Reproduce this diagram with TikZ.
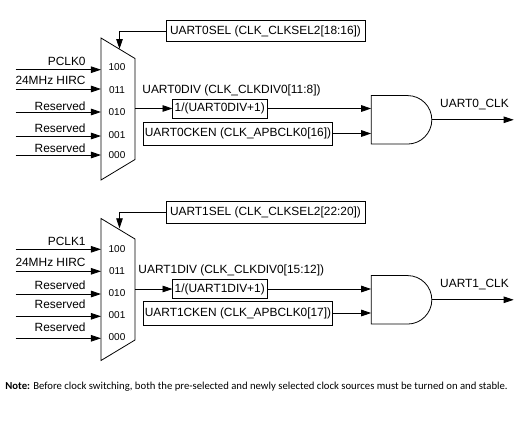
\documentclass[tikz,border=0pt]{standalone}
\usepackage{fontspec}
\setmainfont{Liberation Sans}
\newfontfamily\notefont{Carlito}
\usetikzlibrary{arrows.meta,positioning,shapes.geometric,shapes.gates.logic.US}
\tikzset{
  block/.style={rectangle, draw, inner sep=0pt, outer sep=0pt, align=center, minimum height=21.5pt},
  muxblock/.style={trapezium, draw, rotate=270, trapezium angle=58.9, inner xsep=50.5pt, inner ysep=17pt, outer sep=0pt},
  gateblock/.style={and gate US, draw, logic gate inputs=nn, inner sep=0pt, outer sep=0pt, minimum width=60.6pt, minimum height=45pt},
  txt/.style={inner sep=0pt, font=\fontsize{11.9pt}{13pt}\selectfont},
  code/.style={inner sep=0pt, font=\fontsize{10pt}{12pt}\selectfont},
  line/.style={-{Triangle[length=10pt,width=6.5pt]}, line width=0.8pt}
}

\begin{document}
\begin{tikzpicture}[x=1pt,y=-1pt,every path/.append style={line width=0.8pt}]
  \useasboundingbox (0,0) rectangle (524,429);
  \node[muxblock] (mux0) at (118,109) {};
  \node[code] (n0a) at (117,67) {100};
  \node[code] (n0b) at (117,90) {011};
  \node[code] (n0c) at (117,112) {010};
  \node[code] (n0d) at (117,135) {001};
  \node[code] (n0e) at (117,155) {000};
  \coordinate (in0a) at (15.5,69.7);
  \coordinate (in0b) at (15.5,89);
  \coordinate (in0c) at (15.5,112);
  \coordinate (in0d) at (15.5,136);
  \coordinate (in0e) at (15.5,155);
  \draw[line] (in0a) -- (in0a -| mux0.south);
  \draw[line] (in0b) -- (in0b -| mux0.south);
  \draw[line] (in0c) -- (in0c -| mux0.south);
  \draw[line] (in0d) -- (in0d -| mux0.south);
  \draw[line] (in0e) -- (in0e -| mux0.south);
  \node[txt, anchor=east] (pclk0) at (86,61) {PCLK0};
  \node[txt, anchor=east] (hirc0) at (86,80) {24MHz HIRC};
  \node[txt, anchor=east] (res0a) at (86,106) {Reserved};
  \node[txt, anchor=east] (res0b) at (86,128) {Reserved};
  \node[txt, anchor=east] (res0c) at (86,148) {Reserved};
  \node[block, minimum width=199pt, txt] (sel0) at (265.5,31) {UART0SEL (CLK\_CLKSEL2[18:16])};
  \coordinate (sel0in) at (119.5,49);
  \draw[line] (sel0.west) -| (sel0in);
  \node[txt] (divlbl0) at (231.5,90) {UART0DIV (CLK\_CLKDIV0[11:8])};
  \node[block, minimum width=94.5pt, minimum height=19pt, txt] (div0) at (219.75,108.5) {1/(UART0DIV+1)};
  \node[block, minimum width=189pt, minimum height=23pt, txt] (cken0) at (238,133.5) {UART0CKEN (CLK\_APBCLK0[16])};
  \node[gateblock] (and0) at (399.5,119.8) {};
  \draw[line] (mux0.north |- div0.west) -- (div0.west);
  \draw[line] (div0.east) -- (div0.east -| and0.west);
  \draw[line] (cken0.east) -- (cken0.east -| and0.west);
  \coordinate (out0) at (513.7,119.8);
  \draw[line] (and0.output) -- (out0);
  \node[txt] (clk0) at (474.5,105) {UART0\_CLK};

  \node[muxblock] (mux1) at (118,289.5) {};
  \node[code] (n1a) at (117,249) {100};
  \node[code] (n1b) at (117,271.3) {011};
  \node[code] (n1c) at (117,293) {010};
  \node[code] (n1d) at (117,315) {001};
  \node[code] (n1e) at (117,336.7) {000};
  \coordinate (in1a) at (15.5,249.3);
  \coordinate (in1b) at (15.5,271.3);
  \coordinate (in1c) at (15.5,294);
  \coordinate (in1d) at (15.5,316.3);
  \coordinate (in1e) at (15.5,338.3);
  \draw[line] (in1a) -- (in1a -| mux1.south);
  \draw[line] (in1b) -- (in1b -| mux1.south);
  \draw[line] (in1c) -- (in1c -| mux1.south);
  \draw[line] (in1d) -- (in1d -| mux1.south);
  \draw[line] (in1e) -- (in1e -| mux1.south);
  \node[txt, anchor=east] (pclk1) at (86,241.7) {PCLK1};
  \node[txt, anchor=east] (hirc1) at (86,262.3) {24MHz HIRC};
  \node[txt, anchor=east] (res1a) at (86,285.3) {Reserved};
  \node[txt, anchor=east] (res1b) at (86,304.7) {Reserved};
  \node[txt, anchor=east] (res1c) at (86,327.7) {Reserved};
  \node[block, minimum width=199pt, txt] (sel1) at (265.5,212.5) {UART1SEL (CLK\_CLKSEL2[22:20])};
  \coordinate (sel1in) at (119.5,228.3);
  \draw[line] (sel1.west) -| (sel1in);
  \node[txt] (divlbl1) at (231.3,270.3) {UART1DIV (CLK\_CLKDIV0[15:12])};
  \node[block, minimum width=94.5pt, minimum height=19pt, txt] (div1) at (219.75,289) {1/(UART1DIV+1)};
  \node[block, minimum width=189pt, minimum height=24pt, txt] (cken1) at (238,313) {UART1CKEN (CLK\_APBCLK0[17])};
  \node[gateblock] (and1) at (399.5,299.8) {};
  \draw[line] (mux1.north |- div1.west) -- (div1.west);
  \draw[line] (div1.east) -- (div1.east -| and1.west);
  \draw[line] (cken1.east) -- (cken1.east -| and1.west);
  \coordinate (out1) at (513.7,299.8);
  \draw[line] (and1.output) -- (out1);
  \node[txt] (clk1) at (474.5,284.7) {UART1\_CLK};

  \node[inner sep=0pt, anchor=west, font=\notefont\fontsize{10.7pt}{12pt}\selectfont] (note) at (5,386.5) {\textbf{Note:} Before clock switching, both the pre-selected and newly selected clock sources must be turned on and stable.};
\end{tikzpicture}
\end{document}
